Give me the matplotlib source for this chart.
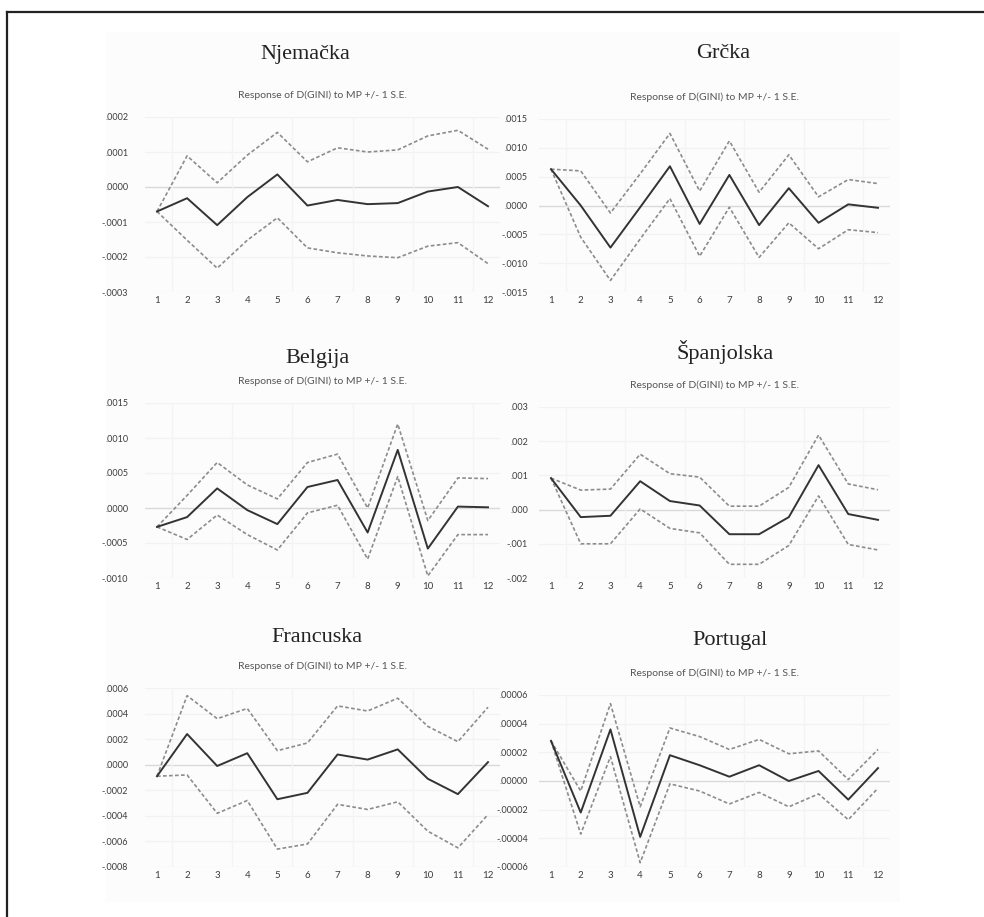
"""Impulse responses of D(GINI) to a monetary policy shock, six countries,
each with +/- 1 S.E. bands (EViews-style panels)."""
import matplotlib

matplotlib.use("Agg")
import matplotlib.pyplot as plt  # noqa: E402
from matplotlib.lines import Line2D  # noqa: E402
from matplotlib.patches import Rectangle  # noqa: E402

W, H = 984, 917
PERIODS = list(range(1, 13))
SUBTITLE = "Response of D(GINI) to MP +/- 1 S.E."

# Njemačka
NJE_MID = [-0.00007, -0.000032, -0.000109, -0.000029, 0.000036, -0.000053,
           -0.000037, -0.000049, -0.000046, -0.000013, 0.0, -0.000055]
NJE_UP = [-0.00007, 0.000089, 0.000012, 0.000091, 0.000156, 0.000072,
          0.000112, 0.0001, 0.000106, 0.000146, 0.000162, 0.000108]
NJE_LO = [-0.00007, -0.000152, -0.000232, -0.000152, -0.000088, -0.000174,
          -0.000188, -0.000197, -0.000202, -0.000169, -0.000159, -0.000219]
NJE_TICKS = [0.0002, 0.0001, 0.0, -0.0001, -0.0002, -0.0003]

# Grčka
GRC_MID = [0.00063, 0.0, -0.00073, -0.00003, 0.00068, -0.00032,
           0.00053, -0.00034, 0.0003, -0.0003, 0.00002, -0.00004]
GRC_UP = [0.00063, 0.0006, -0.00013, 0.00055, 0.00125, 0.00025,
          0.00112, 0.00023, 0.00088, 0.00015, 0.00045, 0.00038]
GRC_LO = [0.00063, -0.00055, -0.0013, -0.00058, 0.00012, -0.00088,
          -0.00003, -0.0009, -0.0003, -0.00075, -0.00042, -0.00047]
GRC_TICKS = [0.0015, 0.0010, 0.0005, 0.0, -0.0005, -0.0010, -0.0015]

# Belgija
BEL_MID = [-0.00027, -0.00013, 0.00028, -0.00003, -0.00023, 0.0003,
           0.0004, -0.00035, 0.00083, -0.00058, 0.00002, 0.00001]
BEL_UP = [-0.00027, 0.00018, 0.00065, 0.00033, 0.00013, 0.00065,
          0.00077, 0.0, 0.0012, -0.00018, 0.00043, 0.00042]
BEL_LO = [-0.00027, -0.00045, -0.0001, -0.00038, -0.0006, -0.00007,
          0.00004, -0.00073, 0.00045, -0.00097, -0.00038, -0.00038]
BEL_TICKS = [0.0015, 0.0010, 0.0005, 0.0, -0.0005, -0.0010]

# Španjolska
ESP_MID = [0.00092, -0.00022, -0.00018, 0.00083, 0.00025, 0.00012,
           -0.00072, -0.00072, -0.00022, 0.0013, -0.00013, -0.0003]
ESP_UP = [0.00092, 0.00057, 0.0006, 0.00162, 0.00105, 0.00095,
          0.0001, 0.0001, 0.00065, 0.00218, 0.00075, 0.00058]
ESP_LO = [0.00092, -0.001, -0.001, 0.00002, -0.00055, -0.00068,
          -0.0016, -0.0016, -0.00105, 0.0004, -0.00102, -0.00118]
ESP_TICKS = [0.003, 0.002, 0.001, 0.0, -0.001, -0.002]

# Francuska
FRA_MID = [-0.00009, 0.00024, -0.00001, 0.00009, -0.00027, -0.00022,
           0.00008, 0.00004, 0.00012, -0.00011, -0.00023, 0.00002]
FRA_UP = [-0.00009, 0.00054, 0.00036, 0.00044, 0.00011, 0.00017,
          0.00046, 0.00042, 0.00052, 0.0003, 0.00018, 0.00045]
FRA_LO = [-0.00009, -0.00008, -0.00038, -0.00028, -0.00066, -0.00062,
          -0.00031, -0.00035, -0.00029, -0.00052, -0.00065, -0.00039]
FRA_TICKS = [0.0006, 0.0004, 0.0002, 0.0, -0.0002, -0.0004, -0.0006, -0.0008]

# Portugal
POR_MID = [0.000028, -0.000022, 0.000036, -0.000039, 0.000018, 0.000011,
           0.000003, 0.000011, 0.0, 0.000007, -0.000013, 0.000009]
POR_UP = [0.000028, -0.000007, 0.000054, -0.000018, 0.000037, 0.000031,
          0.000022, 0.000029, 0.000019, 0.000021, 0.000001, 0.000022]
POR_LO = [0.000028, -0.000037, 0.000017, -0.000057, -0.000002, -0.000007,
          -0.000016, -0.000008, -0.000018, -0.000009, -0.000027, -0.000005]
POR_TICKS = [0.00006, 0.00004, 0.00002, 0.0, -0.00002, -0.00004, -0.00006]

# (title, mid, upper, lower, yticks, decimals, column, top px, bottom px,
#  title centre px)
PANELS = [
    ("Njemačka", NJE_MID, NJE_UP, NJE_LO, NJE_TICKS, 4, 0, 117, 292, (305, 54)),
    ("Grčka", GRC_MID, GRC_UP, GRC_LO, GRC_TICKS, 4, 1, 119, 292, (723, 53)),
    ("Belgija", BEL_MID, BEL_UP, BEL_LO, BEL_TICKS, 4, 0, 403, 578, (318, 358)),
    ("Španjolska", ESP_MID, ESP_UP, ESP_LO, ESP_TICKS, 3, 1, 407, 578, (725, 352)),
    ("Francuska", FRA_MID, FRA_UP, FRA_LO, FRA_TICKS, 4, 0, 688, 867, (317, 637)),
    ("Portugal", POR_MID, POR_UP, POR_LO, POR_TICKS, 5, 1, 695, 867, (730, 640)),
]

# pixel position of period 1 and period 12 in each column
COL_X = [(157, 488), (551, 878)]
XPAD = 0.4
TICK_GAP = [12.0, 8.0]  # points between y labels and axes edge

TEXT = "#3c3c3c"
SOLID = "#333333"
DASH = "#8c8c8c"


def fmt(v, d):
    s = f"{abs(v):.{d}f}".lstrip("0")
    return ("-" if v < 0 else "") + s


fig = plt.figure(figsize=(W / 100, H / 100), dpi=100)

# faint backing sheet and the frame lines
fig.add_artist(Rectangle((106 / W, 1 - 902 / H), (900 - 106) / W, (902 - 32) / H,
                         transform=fig.transFigure, facecolor="#fcfcfc",
                         edgecolor="none", zorder=0))
fig.add_artist(Line2D([7 / W, 7 / W], [0, 1 - 12 / H], color="#222222",
                      linewidth=1.6, transform=fig.transFigure))
fig.add_artist(Line2D([7 / W, 1], [1 - 12 / H, 1 - 12 / H], color="#222222",
                      linewidth=1.6, transform=fig.transFigure))

for (title, mid, up, lo, ticks, dec, col, top, bot, tpos) in PANELS:
    x1, x12 = COL_X[col]
    unit = (x12 - x1) / 11
    left = x1 - XPAD * unit
    right = x12 + XPAD * unit
    ax = fig.add_axes([left / W, 1 - bot / H, (right - left) / W, (bot - top) / H])
    ax.set_facecolor("none")
    ax.set_xlim(1 - XPAD, 12 + XPAD)
    ax.set_ylim(min(ticks), max(ticks))
    for s in ax.spines.values():
        s.set_visible(False)

    for t in ticks:
        ax.axhline(t, color="#d9d9d9" if t == 0 else "#f2f2f2",
                   linewidth=1.0, zorder=1)
    for xv in [1.5, 3.5, 5.5, 7.5, 9.5, 11.5]:
        ax.axvline(xv, color="#f4f4f4", linewidth=1.0, zorder=1)

    ax.plot(PERIODS, up, color=DASH, linewidth=1.2, dashes=(2.2, 1.4), zorder=3)
    ax.plot(PERIODS, lo, color=DASH, linewidth=1.2, dashes=(2.2, 1.4), zorder=3)
    ax.plot(PERIODS, mid, color=SOLID, linewidth=1.4, zorder=4)

    ax.set_yticks(ticks)
    ax.set_yticklabels([fmt(t, dec) for t in ticks], family="Lato",
                       fontsize=6.5, color=TEXT)
    ax.set_xticks(PERIODS)
    ax.set_xticklabels([str(p) for p in PERIODS], family="Lato",
                       fontsize=7, color=TEXT)
    ax.tick_params(axis="y", length=0, pad=TICK_GAP[col])
    ax.tick_params(axis="x", length=0, pad=3)

    fig.text(tpos[0] / W, 1 - tpos[1] / H, title, family="Liberation Serif",
             fontsize=16, color="#222222", ha="center", va="center")
    fig.text((left + right) / 2 / W, 1 - (top - 22) / H, SUBTITLE,
             family="Lato", fontsize=7.5, color="#555555",
             ha="center", va="center")

fig.savefig("out.png", dpi=100, facecolor="white")
